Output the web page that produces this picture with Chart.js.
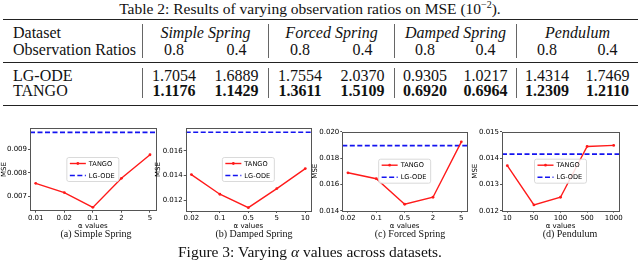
<!DOCTYPE html>
<html>
<head>
<meta charset="utf-8">
<script src="https://cdn.jsdelivr.net/npm/chart.js@4.4.1/dist/chart.umd.min.js"></script>
<style>
  body { margin: 0; width: 640px; height: 260px; background: #fff; position: relative; overflow: hidden;
         font-family: "Liberation Serif", "Times New Roman", serif; color: #111; }
  .title { position: absolute; left: 0; top: 0; width: 620px; text-align: center; font-size: 15.5px; line-height: 17px; }
  .title sup { font-size: 10px; line-height: 0; }
  table { position: absolute; left: 3px; top: 18.5px; width: 635px; table-layout: fixed;
          border-collapse: separate; border-spacing: 0; font-size: 16px; color: #111;
          border-top: 1.5px solid #222; border-bottom: 1.5px solid #222; }
  td { padding: 0; text-align: center; white-space: nowrap; font-family: "Liberation Serif", serif; }
  td.lab { text-align: left; padding-left: 10px; }
  td.bar { border-left: 1px solid #666; }
  tr.h td { line-height: 17px; }
  tr.b td { line-height: 15px; }
  tr.gap td { padding: 0; font-size: 0; line-height: 0; }
  tr.mid td { border-bottom: 1px solid #222; }
  .it { font-style: italic; }
  .bd { font-weight: bold; }
  canvas { position: absolute; }
  .cap { position: absolute; top: 228px; width: 160px; text-align: center; font-size: 10px; line-height: 12px; }
  .figcap { position: absolute; left: 0; top: 243px; width: 620px; text-align: center; font-size: 15.5px; line-height: 17px; }
</style>
</head>
<body>
<div class="title">Table 2: Results of varying observation ratios on MSE (10<sup>−2</sup>).</div>
<table id="tbl"></table>

<canvas id="c1" width="160" height="110" style="left:0px; top:120px"></canvas>
<canvas id="c2" width="162" height="110" style="left:154px; top:120px"></canvas>
<canvas id="c3" width="160" height="110" style="left:311px; top:120px"></canvas>
<canvas id="c4" width="162" height="110" style="left:471px; top:120px"></canvas>

<div class="cap" style="left:16px">(a) Simple Spring</div>
<div class="cap" style="left:174px">(b) Damped Spring</div>
<div class="cap" style="left:330px">(c) Forced Spring</div>
<div class="cap" style="left:490px">(d) Pendulum</div>
<div class="figcap">Figure 3: Varying <i>α</i> values across datasets.</div>

<script>
// table data

const tableDatasets = ["Simple Spring", "Forced Spring", "Damped Spring", "Pendulum"];
const obsRatios = ["0.8", "0.4"];
const lgodeRow = ["1.7054", "1.6889", "1.7554", "2.0370", "0.9305", "1.0217", "1.4314", "1.7469"];
const tangoRow = ["1.1176", "1.1429", "1.3611", "1.5109", "0.6920", "0.6964", "1.2309", "1.2110"];

// chart data (MSE against alpha)

const simpleAlphas = ["0.01", "0.02", "0.1", "2", "5"];
const simpleTango = [0.00756, 0.00717, 0.00655, 0.00777, 0.00876];
const simpleLgode = 0.0097;
const simpleTicks = [0.007, 0.008, 0.009];

const dampedAlphas = ["0.02", "0.1", "0.5", "5", "10"];
const dampedTango = [0.01406, 0.01247, 0.01138, 0.01293, 0.01455];
const dampedLgode = 0.01749;
const dampedTicks = [0.012, 0.014, 0.016];

const forcedAlphas = ["0.02", "0.1", "0.5", "2", "5"];
const forcedTango = [0.01688, 0.01643, 0.01449, 0.01502, 0.01923];
const forcedLgode = 0.01894;
const forcedTicks = [0.014, 0.016, 0.018, 0.020];

const pendulumAlphas = ["10", "50", "100", "500", "1000"];
const pendulumTango = [0.01371, 0.01222, 0.01251, 0.01444, 0.01448];
const pendulumLgode = 0.01415;
const pendulumTicks = [0.012, 0.013, 0.014, 0.015];

// build the table

function buildTable() {
    let html = '<colgroup><col style="width:139px">';
    for (let i = 0; i < 8; i++) html += `<col style="width:${i < 4 ? 63 : 61}px">`;
    html += '</colgroup>';
    html += '<tr class="gap"><td colspan="9" style="height:4px"></td></tr>';
    html += '<tr class="h"><td class="lab">Dataset</td>';
    tableDatasets.forEach(name => { html += `<td colspan="2" class="bar it">${name}</td>`; });
    html += '</tr><tr class="h"><td class="lab">Observation Ratios</td>';
    tableDatasets.forEach(() => {
        obsRatios.forEach((r, j) => { html += `<td${j === 0 ? ' class="bar"' : ''}>${r}</td>`; });
    });
    html += '</tr>';
    html += '<tr class="gap mid"><td colspan="9" style="height:4px"></td></tr>';
    html += '<tr class="gap"><td colspan="9" style="height:5px"></td></tr>';
    [["LG-ODE", lgodeRow, ""], ["TANGO", tangoRow, "bd"]].forEach(([name, row, cls]) => {
        html += `<tr class="b"><td class="lab">${name}</td>`;
        row.forEach((v, j) => { html += `<td class="${j % 2 === 0 ? 'bar ' : ''}${cls}">${v}</td>`; });
        html += '</tr>';
    });
    html += '<tr class="gap"><td colspan="9" style="height:7px"></td></tr>';
    document.querySelector("#tbl").innerHTML = html;
}

// chart helpers

const xMin = -0.2, xMax = 4.2; // matplotlib keeps 5% margin on both sides
const axisColor = "#555";
const tickFont = { family: "DejaVu Sans", size: 7 };

const frame = {
    id: "frame",
    afterDraw(chart) {
        const { ctx, chartArea: a } = chart;
        ctx.save();
        ctx.strokeStyle = axisColor;
        ctx.lineWidth = 1;
        ctx.strokeRect(Math.round(a.left) + 0.5, Math.round(a.top) + 0.5,
            Math.round(a.right - a.left), Math.round(a.bottom - a.top));
        ctx.restore();
    }
};

const boxLegend = {
    id: "boxLegend",
    afterDraw(chart) {
        const { ctx, chartArea: a } = chart;
        const w = 52, h = 24;
        const x = (a.left + a.right) / 2 - w / 2;
        const y = (a.top + a.bottom) / 2 - h / 2;
        ctx.save();
        ctx.beginPath();
        ctx.roundRect(x, y, w, h, 2);
        ctx.fillStyle = "rgba(255,255,255,0.85)";
        ctx.fill();
        ctx.strokeStyle = "#d0d0d0";
        ctx.lineWidth = 0.8;
        ctx.stroke();
        chart.data.datasets.forEach((ds, i) => {
            const ly = y + 6 + i * 12;
            ctx.strokeStyle = ds.borderColor;
            ctx.lineWidth = ds.borderWidth;
            ctx.setLineDash(ds.borderDash || []);
            ctx.beginPath();
            ctx.moveTo(x + 3, ly);
            ctx.lineTo(x + 19, ly);
            ctx.stroke();
            ctx.setLineDash([]);
            if (ds.pointRadius) {
                ctx.fillStyle = ds.borderColor;
                ctx.beginPath();
                ctx.arc(x + 11, ly, ds.pointRadius, 0, Math.PI * 2);
                ctx.fill();
            }
            ctx.fillStyle = "#000";
            ctx.font = "6.6px 'DejaVu Sans'";
            ctx.textBaseline = "middle";
            ctx.fillText(ds.label, x + 22, ly + 0.5);
        });
        ctx.restore();
    }
};

function makeChart(id, alphas, tango, lgode, yMin, yMax, yTicks, pad) {
    return new Chart(document.querySelector(id), {
        type: "line",
        data: {
            datasets: [{
                label: "TANGO",
                data: tango.map((v, i) => ({ x: i, y: v })),
                borderColor: "#ff1a1a",
                backgroundColor: "#ff1a1a",
                borderWidth: 1.4,
                pointRadius: 1.4,
                pointBorderWidth: 0
            }, {
                label: "LG-ODE",
                data: [{ x: xMin, y: lgode }, { x: xMax, y: lgode }],
                borderColor: "#1414f0",
                borderWidth: 1.6,
                borderDash: [5, 2.5],
                pointRadius: 0
            }]
        },
        options: {
            responsive: false,
            animation: false,
            layout: { padding: { top: pad.top, right: pad.right, left: 0, bottom: 0 } },
            plugins: { legend: { display: false }, tooltip: { enabled: false } },
            scales: {
                x: {
                    type: "linear",
                    min: xMin,
                    max: xMax,
                    afterBuildTicks: s => { s.ticks = alphas.map((_, i) => ({ value: i })); },
                    afterFit: s => { s.height = pad.bottom; },
                    ticks: { callback: v => alphas[v], maxRotation: 0, autoSkip: false, padding: 1, font: tickFont, color: "#000" },
                    grid: { drawOnChartArea: false, tickLength: 2, color: axisColor },
                    border: { display: false },
                    title: { display: true, text: "α values", padding: 0, font: tickFont, color: "#000" }
                },
                y: {
                    min: yMin,
                    max: yMax,
                    afterBuildTicks: s => { s.ticks = yTicks.map(v => ({ value: v })); },
                    afterFit: s => { s.width = pad.left; },
                    ticks: { callback: v => v.toFixed(3), padding: 1, font: tickFont, color: "#000" },
                    grid: { drawOnChartArea: false, tickLength: 2, color: axisColor },
                    border: { display: false },
                    title: { display: true, text: "MSE", padding: 0, font: tickFont, color: "#000" }
                }
            }
        },
        plugins: [frame, boxLegend]
    });
}

// execute code

buildTable();
makeChart("#c1", simpleAlphas, simpleTango, simpleLgode, 0.00641, 0.00987, simpleTicks,
    { left: 30, top: 8.3, right: 4.3, bottom: 19.3 });
makeChart("#c2", dampedAlphas, dampedTango, dampedLgode, 0.01111, 0.01784, dampedTicks,
    { left: 31.7, top: 8, right: 5, bottom: 19 });
makeChart("#c3", forcedAlphas, forcedTango, forcedLgode, 0.014, 0.020, forcedTicks,
    { left: 31.3, top: 11.7, right: 4, bottom: 19.3 });
makeChart("#c4", pendulumAlphas, pendulumTango, pendulumLgode, 0.012, 0.015, pendulumTicks,
    { left: 31, top: 11.7, right: 14, bottom: 19.3 });
</script>
</body>
</html>
